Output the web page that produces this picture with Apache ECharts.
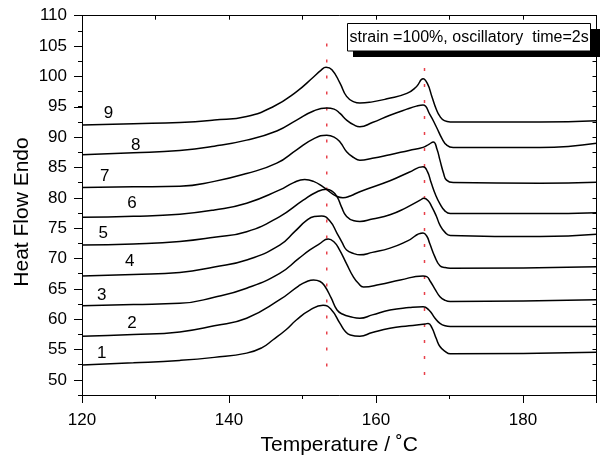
<!DOCTYPE html>
<html>
<head>
<meta charset="utf-8">
<script src="https://cdn.jsdelivr.net/npm/echarts@6/dist/echarts.min.js"></script>
<style>
  html, body { margin: 0; padding: 0; background: #fff; }
  #chart { width: 600px; height: 461px; }
</style>
</head>
<body>
<div id="chart"></div>
<script>
// DSC curves, [temperature, heat flow]
const curve1 = [[120,52.45],[127,52.8],[133.3,53.2],[138,53.7],[142.4,54.4],[144.5,55.3],[146,56.6],[147.8,58.3],[149.2,59.9],[151,61.5],[152.8,62.3],[153.9,61.6],[155.1,59.3],[155.8,58.0],[156.5,57.4],[157.8,57.2],[159.5,57.8],[161.9,58.5],[164.5,58.9],[166.7,59.2],[167.1,59.3],[167.6,58.6],[168.2,56.8],[168.7,55.5],[169.4,54.7],[170.1,54.3],[190,54.55]]
const curve2 = [[120,57.2],[127,57.45],[133.3,57.9],[138,58.9],[142.4,60.15],[146.9,63.2],[149.5,65.5],[150.6,66.2],[151.5,66.45],[152.4,66.2],[153,65.5],[153.9,63.5],[154.7,61.5],[155.5,60.8],[156.5,60.4],[157.8,60.15],[159.5,60.7],[161.9,61.5],[164.5,61.9],[166.4,62.05],[167.2,61.5],[168,60.2],[168.7,59.3],[169.4,58.9],[170.1,58.8],[190,58.8]]
const curve3 = [[120,62.2],[127,62.4],[133.3,62.6],[138,63.6],[142.4,65.1],[146.9,67.55],[149.5,70.0],[151,71.4],[152.3,72.4],[153.5,73.2],[154.3,72.7],[155,71.5],[156,69.1],[156.9,67.0],[157.6,65.9],[158.3,65.3],[160.5,65.7],[163.3,66.45],[166.4,67.1],[166.9,67.0],[167.4,66.2],[168,65.0],[168.7,63.7],[169.4,63.1],[170.1,62.9],[190,63.2]]
const curve4 = [[120,67.1],[127,67.35],[133.3,67.7],[138,68.6],[142.4,69.75],[146.9,72.2],[149,74.5],[150.6,76.3],[151.6,76.9],[152.6,77.0],[153.7,76.2],[154.7,74.15],[155.4,72.6],[156,71.4],[157,70.8],[157.8,70.6],[159.5,71.0],[161.9,71.7],[164.3,72.9],[166.4,74.2],[166.9,73.7],[167.3,72.5],[168,70.3],[168.7,68.8],[169.4,68.5],[170.1,68.4],[190,68.65]]
const curve5 = [[120,72.2],[127,72.4],[133.3,72.8],[138,73.5],[142.4,74.4],[146.9,76.9],[150.1,79.6],[152,81.0],[153.3,81.4],[154.1,81.0],[154.7,80.2],[155.3,78.5],[156,76.9],[157,76.2],[157.8,76.1],[159.5,76.5],[161.9,77.2],[164,78.3],[166,79.6],[166.5,79.9],[167.1,79.5],[167.6,78.5],[168.2,77.0],[168.7,75.5],[169.4,74.3],[170.1,73.8],[182.3,73.6],[190,74.0]]
const curve6 = [[120,76.8],[127,76.95],[133.3,77.3],[138,78.0],[142.4,79.1],[146.9,81.3],[148.8,82.5],[150.3,83.0],[151.5,82.7],[152.8,81.8],[154.7,80.2],[155.5,80.0],[156.5,80.3],[157.8,81.0],[161.9,82.8],[164.5,84.2],[166.4,85.1],[167.0,84.3],[167.5,82.5],[168.1,80.5],[168.7,79.0],[169.4,77.8],[170.1,77.4],[182.3,77.4],[190,77.55]]
const curve7 = [[120,81.7],[127,81.8],[133.3,81.9],[138,82.7],[142.4,84.0],[146.5,85.7],[149.2,87.9],[151.5,89.7],[153.3,90.3],[154.3,90.0],[155.1,89.2],[156,87.6],[157,86.6],[157.8,86.2],[159.5,86.5],[161.9,87.1],[164.5,87.8],[166.4,88.3],[167.2,88.8],[167.8,89.2],[168.3,88.0],[168.7,86.2],[169.2,84.0],[169.6,82.9],[170.5,82.5],[182.3,82.4],[190,82.55]]
const curve8 = [[120,87.1],[127,87.4],[133.3,87.8],[138,88.5],[142.4,89.5],[146.5,91.0],[149.2,92.8],[151.5,94.3],[153.3,94.8],[154.3,94.6],[155.1,93.9],[156,92.8],[157,92.0],[157.8,91.7],[159.5,92.4],[161.9,93.6],[164.2,94.6],[165.5,95.1],[166.4,95.3],[167.3,93.8],[168.2,91.7],[169,89.7],[169.6,88.7],[170.5,88.3],[182.3,88.3],[190,89.0]]
const curve9 = [[120,92.0],[127,92.2],[133.3,92.4],[138,92.8],[142.4,93.4],[146,95.0],[149.2,97.5],[151.5,99.9],[152.5,101.0],[153.2,101.5],[154,101.1],[155.1,98.9],[156,96.7],[157,95.8],[157.8,95.6],[159.5,95.8],[161.5,96.3],[164.2,97.2],[165.5,98.3],[166.4,99.6],[167,98.8],[167.6,96.7],[168.2,94.6],[168.7,93.4],[169.3,92.7],[170.1,92.5],[175,92.5],[182.3,92.5],[190,92.7]]
const curves = [curve1, curve2, curve3, curve4, curve5, curve6, curve7, curve8, curve9]

// curve number labels [T, y, text]
const curveLabels = [[122.7,54.3,'1'],[126.8,59.3,'2'],[122.7,64.0,'3'],[126.5,69.5,'4'],[122.9,74.1,'5'],[126.8,79.1,'6'],[123.1,83.5,'7'],[127.3,88.7,'8'],[123.6,93.9,'9']]

// red dotted guide lines: [T, yBottom, yTop]
const guideLines = [[153.3, 52.2, 105.7], [166.6, 50.8, 101.6]]

const FONT = "'Liberation Sans', Arial, Helvetica, sans-serif"
const chart = echarts.init(document.getElementById('chart'))

const grid = { left: 82, right: 3.5, top: 15.7, bottom: 66 }
// second grid only carries the labelled y ticks (50..110)
const grid2 = { left: 82, right: 3.5, top: 15.7, bottom: 81 }

const axisLine = { show: true, lineStyle: { color: '#000', width: 1 } }

const option = {
  animation: false,
  backgroundColor: '#fff',
  grid: [grid, grid2],
  xAxis: [
    {
      type: 'value', gridIndex: 0, position: 'bottom',
      min: 120, max: 190, interval: 20,
      axisLine,
      axisTick: { show: true, length: 8, lineStyle: { color: '#000' } },
      axisLabel: {
        color: '#000', fontSize: 17, fontFamily: FONT, margin: 17,
        formatter: v => (v % 20 === 0 && v < 190 ? String(v) : '')
      },
      splitLine: { show: false },
      name: 'Temperature / ˚C', nameLocation: 'middle', nameGap: 40,
      nameTextStyle: { color: '#000', fontSize: 21, fontFamily: FONT }
    },
    {
      type: 'value', gridIndex: 0, position: 'bottom',
      min: 120, max: 190, interval: 10,
      axisLine: { show: false },
      axisTick: { show: true, length: 4, lineStyle: { color: '#000' } },
      axisLabel: { show: false },
      splitLine: { show: false }
    },
    {
      type: 'value', gridIndex: 0, position: 'top',
      min: 120, max: 190, interval: 10,
      axisLine,
      axisTick: { show: true, inside: true, length: 4, lineStyle: { color: '#000' } },
      axisLabel: { show: false },
      splitLine: { show: false }
    },
    {
      type: 'value', gridIndex: 1, show: false, min: 120, max: 190
    }
  ],
  yAxis: [
    {
      type: 'value', gridIndex: 0, position: 'left',
      min: 47.5, max: 110, interval: 2.5,
      axisLine,
      axisTick: { show: true, length: 4, lineStyle: { color: '#000' } },
      axisLabel: { show: false },
      splitLine: { show: false }
    },
    {
      type: 'value', gridIndex: 0, position: 'right',
      min: 47.5, max: 110, interval: 2.5,
      axisLine,
      axisTick: { show: true, inside: true, length: 4, lineStyle: { color: '#000' } },
      axisLabel: { show: false },
      splitLine: { show: false }
    },
    {
      type: 'value', gridIndex: 1, position: 'left',
      min: 50, max: 110, interval: 5,
      axisLine: { show: false },
      axisTick: { show: true, length: 8, lineStyle: { color: '#000' } },
      axisLabel: { color: '#000', fontSize: 17, fontFamily: FONT, margin: 15 },
      splitLine: { show: false }
    }
  ],
  graphic: [
    // shadowed note box
    { type: 'rect', shape: { x: 353, y: 29, width: 247, height: 28 }, style: { fill: '#000' }, z: 100 },
    { type: 'rect', shape: { x: 347.5, y: 23.5, width: 243, height: 27.5 }, style: { fill: '#fff', stroke: '#000', lineWidth: 1 }, z: 101 },
    { type: 'text', x: 349.5, y: 37.5, z: 102,
      style: { text: 'strain =100%, oscillatory  time=2s', font: '16px ' + FONT, fill: '#000', textVerticalAlign: 'middle' } },
    { type: 'text', x: 22, y: 212, rotation: Math.PI / 2,
      style: { text: 'Heat Flow Endo', font: '21px ' + FONT, fill: '#000', textAlign: 'center', textVerticalAlign: 'middle' } }
  ],
  series: [
    ...guideLines.map(g => ({
      type: 'line', xAxisIndex: 0, yAxisIndex: 0,
      data: [[g[0], g[1]], [g[0], g[2]]],
      symbol: 'none', silent: true,
      lineStyle: { color: '#e8404a', width: 1.5, type: [3, 13] }
    })),
    ...curves.map(c => ({
      type: 'line', xAxisIndex: 0, yAxisIndex: 0,
      data: c, smooth: 0.5, symbol: 'none',
      lineStyle: { color: '#000', width: 1.5 }
    })),
    {
      type: 'scatter', xAxisIndex: 0, yAxisIndex: 0,
      data: curveLabels, symbolSize: 0,
      itemStyle: { opacity: 1 },
      label: {
        show: true, position: 'inside', formatter: p => p.value[2],
        color: '#000', fontSize: 17, fontFamily: FONT
      }
    }
  ]
}

chart.setOption(option)
</script>
</body>
</html>
